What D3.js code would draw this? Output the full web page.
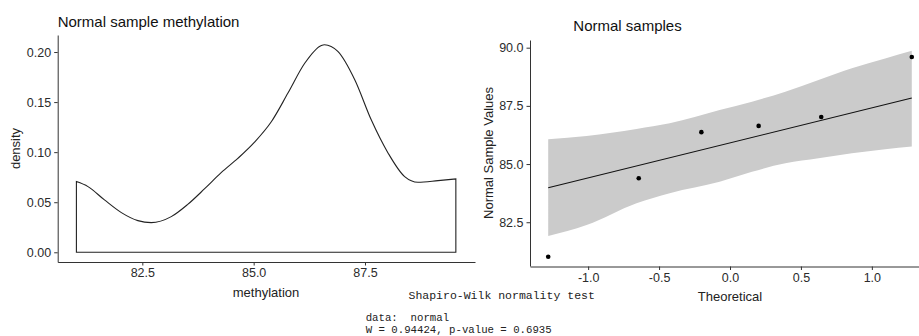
<!DOCTYPE html>
<html>
<head>
<meta charset="utf-8">
<script src="https://cdn.jsdelivr.net/npm/d3@7"></script>
<style>
  body { margin: 0; background: #fff; }
  svg { display: block; font-family: "Liberation Sans", Arial, sans-serif; }
  .axis text { fill: #2b2b2b; font-size: 12.5px; }
  .axis path, .axis line { stroke: #333; stroke-width: 1; }
  .mono { font-family: "Liberation Mono", "DejaVu Sans Mono", monospace; fill: #222; white-space: pre; }
</style>
</head>
<body>
<div id="chart"></div>
<script>
// density of the normal sample methylation
var methylation = [81.02, 81.28, 81.65, 82.03, 82.40, 82.70, 83.15, 83.52, 83.90, 84.27, 84.65, 85.02,
  85.40, 85.77, 86.15, 86.52, 86.59, 86.89, 87.27, 87.64, 88.02, 88.39, 88.69, 89.14, 89.54];
var density = [0.0706, 0.0656, 0.0523, 0.0396, 0.0316, 0.0296, 0.0356, 0.0478, 0.0635, 0.0795, 0.0940, 0.1100,
  0.1306, 0.1590, 0.1890, 0.2066, 0.2073, 0.2006, 0.1723, 0.1323, 0.0990, 0.0756, 0.0700, 0.0716, 0.0733];

// qq plot
var theoretical = [-1.2816, -0.6433, -0.2019, 0.2019, 0.6433, 1.2816];
var sampleValues = [81.02, 84.39, 86.37, 86.64, 87.02, 89.60];
var lineX = [-1.2816, 1.2816];
var lineY = [83.98, 87.84];
var bandX = [-1.2816, -1.011, -0.659, -0.425, -0.073, 0.155, 0.39, 0.624, 0.859, 1.094, 1.2816];
var bandLow = [81.91, 82.38, 83.32, 83.75, 84.24, 84.67, 85.03, 85.25, 85.46, 85.64, 85.75];
var bandHigh = [86.07, 86.21, 86.51, 86.75, 87.32, 87.68, 88.11, 88.61, 89.12, 89.54, 89.87];

var densityTicks = [0, 0.05, 0.10, 0.15, 0.20];
var methylTicks = [82.5, 85.0, 87.5];
var qqYTicks = [82.5, 85.0, 87.5, 90.0];
var qqXTicks = [-1.0, -0.5, 0.0, 0.5, 1.0];
var swLines = ["data:  normal", "W = 0.94424, p-value = 0.6935"];

var width = 919, height = 336;
var svg = d3.select("#chart").append("svg")
  .attr("width", width)
  .attr("height", height);

var fmt1 = d => d.toFixed(1);

// ---------- left: density ----------
var x1 = d3.scaleLinear().domain([80.6, 89.97]).range([57.7, 475]);
var y1 = d3.scaleLinear().domain([-0.0097, 0.217]).range([262, 35]);

var curve = d3.line()
  .x((d, i) => x1(methylation[i]))
  .y(d => y1(d))
  .curve(d3.curveMonotoneX);

var n = methylation.length;
var outline = curve(density)
  + "L" + x1(methylation[n - 1]) + "," + y1(0)
  + "L" + x1(methylation[0]) + "," + y1(0) + "Z";

svg.append("path")
  .attr("d", outline)
  .attr("fill", "none")
  .attr("stroke", "#222")
  .attr("stroke-width", 1.1);

svg.append("g")
  .attr("class", "axis")
  .attr("transform", "translate(57.7,0)")
  .call(d3.axisLeft(y1).tickValues(densityTicks).tickFormat(d3.format(".2f")).tickSize(3.5).tickSizeOuter(0));

svg.append("g")
  .attr("class", "axis")
  .attr("transform", "translate(0,262)")
  .call(d3.axisBottom(x1).tickValues(methylTicks).tickFormat(fmt1).tickSize(3.5).tickSizeOuter(0));

svg.append("text")
  .attr("x", 57.7)
  .attr("y", 26.5)
  .style("font-size", "15px")
  .style("fill", "#111")
  .text("Normal sample methylation");

svg.append("text")
  .attr("x", 266)
  .attr("y", 297)
  .attr("text-anchor", "middle")
  .style("font-size", "13px")
  .style("fill", "#222")
  .text("methylation");

svg.append("text")
  .attr("transform", "translate(20,148.5) rotate(-90)")
  .attr("text-anchor", "middle")
  .style("font-size", "13px")
  .style("fill", "#222")
  .text("density");

// ---------- right: qq plot ----------
var x2 = d3.scaleLinear().domain([-1.41, 1.41]).range([530, 930]);
var y2 = d3.scaleLinear().domain([80.62, 90.33]).range([266, 40]);

var band = d3.area()
  .x((d, i) => x2(bandX[i]))
  .y0((d, i) => y2(bandLow[i]))
  .y1(d => y2(d))
  .curve(d3.curveMonotoneX);

svg.append("path")
  .attr("d", band(bandHigh))
  .attr("fill", "#cbcbcb");

svg.append("line")
  .attr("x1", x2(lineX[0]))
  .attr("y1", y2(lineY[0]))
  .attr("x2", x2(lineX[1]))
  .attr("y2", y2(lineY[1]))
  .attr("stroke", "#111")
  .attr("stroke-width", 1.1);

svg.selectAll(".pt")
  .data(sampleValues)
  .enter()
  .append("circle")
    .attr("class", "pt")
    .attr("cx", (d, i) => x2(theoretical[i]))
    .attr("cy", d => y2(d))
    .attr("r", 2.3)
    .attr("fill", "#000");

svg.append("g")
  .attr("class", "axis")
  .attr("transform", "translate(530,0)")
  .call(d3.axisLeft(y2).tickValues(qqYTicks).tickFormat(fmt1).tickSize(3.5).tickSizeOuter(0));

svg.append("g")
  .attr("class", "axis")
  .attr("transform", "translate(0,266.5)")
  .call(d3.axisBottom(x2).tickValues(qqXTicks).tickFormat(fmt1).tickSize(3.5).tickSizeOuter(0));

svg.append("text")
  .attr("x", 573.3)
  .attr("y", 30.7)
  .style("font-size", "15px")
  .style("fill", "#111")
  .text("Normal samples");

svg.append("text")
  .attr("x", 730)
  .attr("y", 301)
  .attr("text-anchor", "middle")
  .style("font-size", "13px")
  .style("fill", "#222")
  .text("Theoretical");

svg.append("text")
  .attr("transform", "translate(493,153) rotate(-90)")
  .attr("text-anchor", "middle")
  .style("font-size", "13px")
  .style("fill", "#222")
  .text("Normal Sample Values");

// ---------- Shapiro-Wilk console output ----------
svg.append("text")
  .attr("class", "mono")
  .attr("x", 408.5)
  .attr("y", 299)
  .style("font-size", "11.5px")
  .text("Shapiro-Wilk normality test");

svg.selectAll(".sw")
  .data(swLines)
  .enter()
  .append("text")
    .attr("class", "mono sw")
    .attr("x", 365.7)
    .attr("y", (d, i) => 321 + i * 11.5)
    .style("font-size", "10.7px")
    .text(d => d);
</script>
</body>
</html>
